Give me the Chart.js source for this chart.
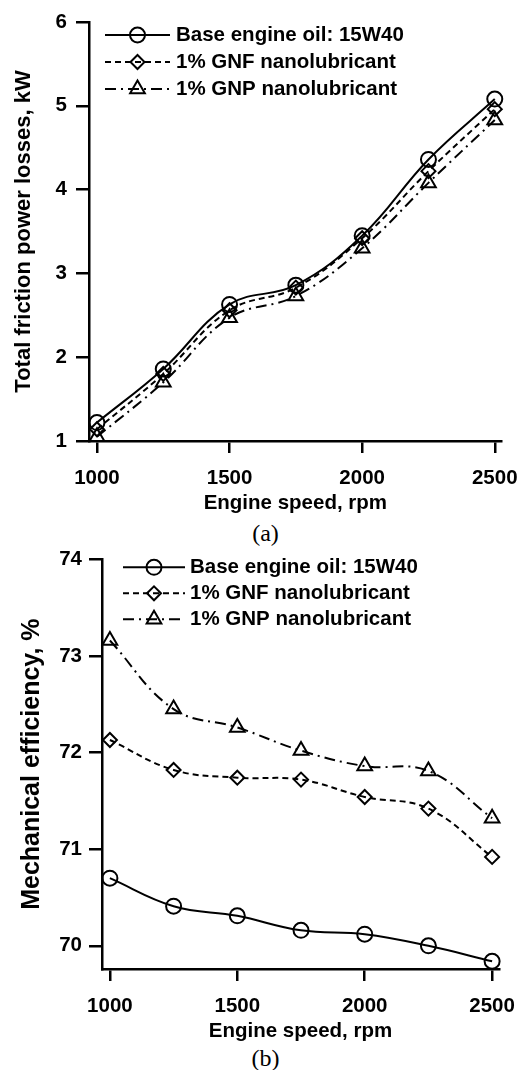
<!DOCTYPE html>
<html lang="en">
<head>
    <meta charset="UTF-8">
    <title>Friction power losses and mechanical efficiency</title>
    <script src="https://cdn.jsdelivr.net/npm/chart.js"></script>
    <style>
        body { margin: 0; background: #fff; }
        #wrap { position: relative; width: 531px; height: 1070px; }
        canvas { position: absolute; left: 0; }
        #chartA { top: 0; }
        #chartB { top: 540px; }
        .caption { position: absolute; left: 0; width: 531px; text-align: center;
                   font-family: 'Liberation Serif', 'Times New Roman', serif; font-size: 24px; line-height: 24px; }
    </style>
</head>
<body>
<div id="wrap">
    <canvas id="chartA" width="531" height="520"></canvas>
    <div class="caption" style="top:521px">(a)</div>
    <canvas id="chartB" width="531" height="505"></canvas>
    <div class="caption" style="top:1046px">(b)</div>
</div>
<script>
// data
const speeds = [1000, 1250, 1500, 1750, 2000, 2250, 2500];
const seriesNames = ['Base engine oil: 15W40', '1% GNF nanolubricant', '1% GNP nanolubricant'];

const frictionBase = [1.22, 1.86, 2.63, 2.86, 3.45, 4.36, 5.08];
const frictionGNF  = [1.14, 1.80, 2.56, 2.83, 3.42, 4.22, 4.96];
const frictionGNP  = [1.05, 1.70, 2.47, 2.73, 3.30, 4.08, 4.83];

const efficiencyBase = [70.70, 70.41, 70.31, 70.16, 70.12, 70.00, 69.84];
const efficiencyGNF  = [72.13, 71.82, 71.74, 71.72, 71.54, 71.42, 70.92];
const efficiencyGNP  = [73.16, 72.45, 72.26, 72.02, 71.86, 71.81, 71.32];

const speedTicks = [1000, 1500, 2000, 2500];
const frictionTicks = [1, 2, 3, 4, 5, 6];
const efficiencyTicks = [70, 71, 72, 73, 74];

const FONT = "'Liberation Sans', Arial, sans-serif";

// legend drawn by hand: line sample + hollow marker + label
const lineLegend = {
    id: 'lineLegend',
    afterDraw(chart, args, opts) {
        const {ctx, chartArea} = chart;
        ctx.save();
        ctx.font = 'bold ' + opts.fontSize + 'px ' + FONT;
        ctx.textBaseline = 'middle';
        chart.data.datasets.forEach((ds, i) => {
            const y = chartArea.top + opts.top + i * opts.rowGap;
            const x0 = chartArea.left + opts.left;
            ctx.strokeStyle = '#000';
            ctx.lineWidth = ds.borderWidth;
            ctx.setLineDash(ds.borderDash || []);
            ctx.beginPath();
            ctx.moveTo(x0, y);
            ctx.lineTo(x0 + opts.lineLength, y);
            ctx.stroke();
            ctx.setLineDash([]);
            ctx.lineWidth = ds.pointBorderWidth;
            ctx.fillStyle = 'rgba(0,0,0,0)';
            Chart.helpers.drawPoint(ctx, {pointStyle: ds.pointStyle, radius: ds.pointRadius,
                borderWidth: ds.pointBorderWidth, rotation: 0}, x0 + opts.lineLength / 2, y);
            ctx.fillStyle = '#000';
            ctx.fillText(ds.label, x0 + opts.lineLength + opts.textGap, y);
        });
        ctx.restore();
    }
};

function makeSet(label, values, style, dash, radius) {
    return {
        label: label,
        data: speeds.map((s, i) => ({x: s, y: values[i]})),
        borderColor: '#000',
        borderWidth: 2,
        borderDash: dash,
        tension: 0.4,
        pointStyle: style,
        pointRadius: radius,
        pointHoverRadius: radius,
        pointBorderWidth: 2,
        pointBackgroundColor: 'rgba(0,0,0,0)',
        pointBorderColor: '#000',
        clip: false
    };
}

function axis(min, max, tickList, title, o) {
    return {
        type: 'linear',
        min: min,
        max: max,
        afterBuildTicks: s => { s.ticks = tickList.map(v => ({value: v})); },
        afterFit: s => { if (o.width) s.width = o.width; if (o.height) s.height = o.height; },
        border: {display: true, color: '#000', width: 2.5},
        grid: {drawOnChartArea: false, drawTicks: true, tickLength: o.tickLength, color: '#000', lineWidth: 2.5},
        ticks: {color: '#000', padding: o.pad, callback: v => String(v),
                font: {family: FONT, size: 20.5, weight: 'bold'}},
        title: {display: true, text: title, color: '#000',
                padding: o.titlePad, font: {family: FONT, size: o.titleSize, weight: 'bold'}}
    };
}

function build(id, sets, xr, yr, yTickList, yTitle, lay) {
    new Chart(document.getElementById(id), {
        type: 'line',
        data: {datasets: sets},
        options: {
            responsive: false,
            animation: false,
            devicePixelRatio: 1,
            layout: {padding: {left: 0, top: lay.top, right: lay.right, bottom: 0}},
            plugins: {legend: {display: false}, tooltip: {enabled: false}, lineLegend: lay.legend},
            scales: {
                x: axis(xr[0], xr[1], speedTicks, 'Engine speed, rpm',
                    {height: lay.xHeight, tickLength: 12, pad: lay.xPad, titlePad: {top: 0, bottom: lay.xTitlePad}, titleSize: 20.5}),
                y: axis(yr[0], yr[1], yTickList, yTitle,
                    {width: lay.yWidth, tickLength: 13, pad: lay.yPad, titlePad: {top: lay.yTitlePad, bottom: 0}, titleSize: lay.yTitleSize})
            }
        },
        plugins: [lineLegend]
    });
}

build('chartA', [
    makeSet(seriesNames[0], frictionBase, 'circle', [], 7.5),
    makeSet(seriesNames[1], frictionGNF, 'rectRot', [6, 4], 7),
    makeSet(seriesNames[2], frictionGNP, 'triangle', [11, 5, 2, 5], 8.5)
], [970, 2526], [1, 6], frictionTicks, 'Total friction power losses, kW', {
    top: 22, right: 26, xHeight: 79, yWidth: 89, xPad: 13, yPad: 9,
    xTitlePad: 4, yTitlePad: 11, yTitleSize: 22,
    legend: {left: 16, top: 13, rowGap: 27, lineLength: 65, textGap: 6, fontSize: 20.5}
});

build('chartB', [
    makeSet(seriesNames[0], efficiencyBase, 'circle', [], 7.5),
    makeSet(seriesNames[1], efficiencyGNF, 'rectRot', [6, 4], 7),
    makeSet(seriesNames[2], efficiencyGNP, 'triangle', [11, 5, 2, 5], 8.5)
], [969, 2527], [69.76, 74], efficiencyTicks, 'Mechanical efficiency, %', {
    top: 17, right: 32, xHeight: 76, yWidth: 102, xPad: 13, yPad: 7,
    xTitlePad: 1, yTitlePad: 17, yTitleSize: 25,
    legend: {left: 21, top: 8, rowGap: 26, lineLength: 62, textGap: 5, fontSize: 20.5}
});
</script>
</body>
</html>
